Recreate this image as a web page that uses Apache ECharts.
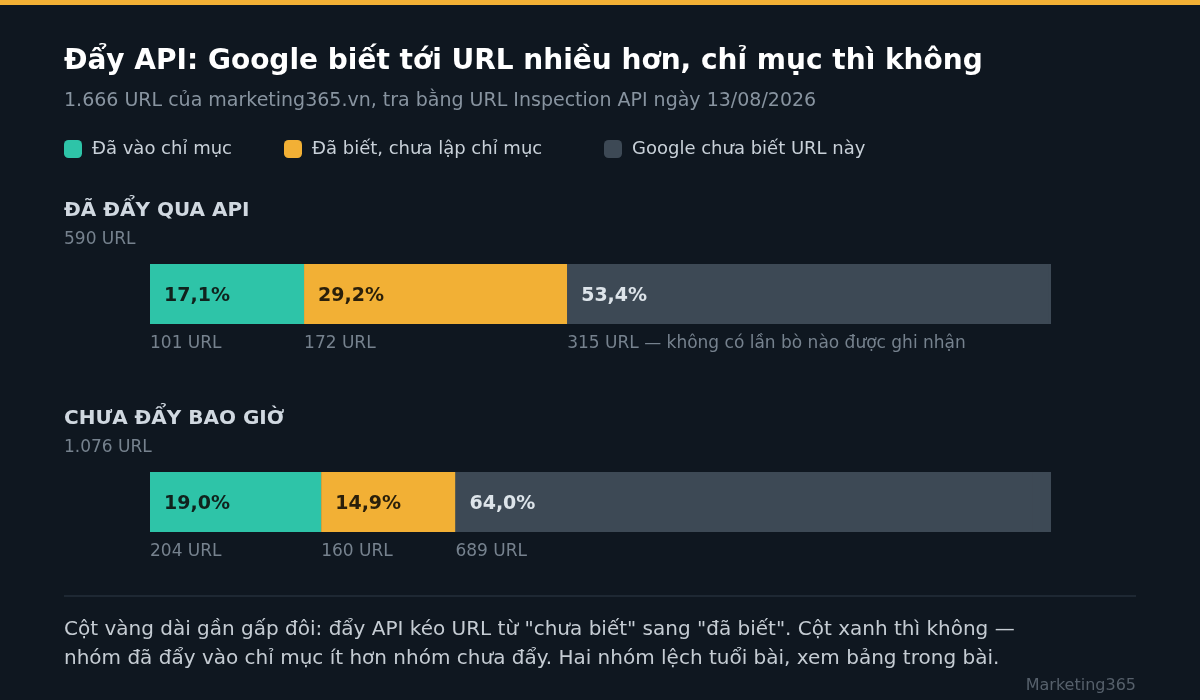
<!DOCTYPE html>
<html>
<head>
<meta charset="utf-8">
<script src="https://cdn.jsdelivr.net/npm/echarts@6/dist/echarts.min.js"></script>
<style>
html,body{margin:0;padding:0;background:#0f1720;}
#c{width:1200px;height:700px;}
</style>
</head>
<body>
<div id="c"></div>
<script>
// ---- data ----
const seriesNames = ['Đã vào chỉ mục', 'Đã biết, chưa lập chỉ mục', 'Google chưa biết URL này'];
const groupNames = ['ĐÃ ĐẨY QUA API', 'CHƯA ĐẨY BAO GIỜ'];
const groupTotals = [590, 1076];
const pushedPct = [17.1, 29.2, 53.4];
const pushedCounts = [101, 172, 315];
const pushedNotes = ['', '', ' — không có lần bò nào được ghi nhận'];
const neverPct = [19.0, 14.9, 64.0];
const neverCounts = [204, 160, 689];
const neverNotes = ['', '', ''];

const FONT = '"DejaVu Sans", sans-serif';
const colors = ['#2ec4a8', '#f2b035', '#3d4955'];
const pctTextColors = ['#10221d', '#2a1f0a', '#dde4ea'];

function fmtNum(n) { return String(n).replace(/\B(?=(\d{3})+(?!\d))/g, '.'); }
function fmtPct(v) { return v.toFixed(1).replace('.', ',') + '%'; }

const groups = [
  { pct: pushedPct, counts: pushedCounts, notes: pushedNotes },
  { pct: neverPct, counts: neverCounts, notes: neverNotes }
];

const grids = [], xAxes = [], yAxes = [], series = [];
const gridTops = [264, 472];
groups.forEach((g, gi) => {
  grids.push({ left: 150, width: 901, top: gridTops[gi], height: 60, containLabel: false });
  xAxes.push({ type: 'value', gridIndex: gi, min: 0, max: 100, show: false });
  yAxes.push({ type: 'category', gridIndex: gi, data: [groupNames[gi]], show: false });
  g.pct.forEach((v, si) => {
    series.push({
      name: seriesNames[si], type: 'bar', xAxisIndex: gi, yAxisIndex: gi,
      stack: 'main' + gi, barWidth: 60, barGap: '-100%',
      data: [v],
      itemStyle: { color: colors[si] },
      showBackground: si === 0,
      backgroundStyle: { color: colors[2] },
      label: {
        show: true, position: 'insideLeft', distance: 14, offset: [0, 2],
        formatter: (p) => fmtPct(p.value),
        color: pctTextColors[si], fontFamily: FONT, fontWeight: 'bold', fontSize: 19
      },
      emphasis: { disabled: true }, animation: false
    });
  });
  g.pct.forEach((v, si) => {
    series.push({
      name: 'lbl' + gi + '_' + si, type: 'bar', xAxisIndex: gi, yAxisIndex: gi,
      stack: 'lbl' + gi, barWidth: 60, barGap: '-100%', silent: true,
      data: [v],
      itemStyle: { color: 'rgba(0,0,0,0)' },
      label: {
        show: true, position: 'insideBottomLeft', distance: 0, offset: [0, 28],
        formatter: () => g.counts[si] + ' URL' + g.notes[si],
        color: '#76828e', fontFamily: FONT, fontSize: 17
      },
      emphasis: { disabled: true }, animation: false
    });
  });
});

const legendLefts = [64, 284, 604];
const legends = seriesNames.map((n, i) => ({
  data: [n], left: legendLefts[i], top: 140, padding: 0, itemWidth: 18, itemHeight: 18, icon: 'roundRect',
  itemStyle: { borderRadius: 3 }, selectedMode: false,
  textStyle: { color: '#c9d1d9', fontFamily: FONT, fontSize: 18, padding: [0, 0, 0, 5] }
}));

function txt(text, x, y, font, fill, align) {
  return { type: 'text', silent: true, style: { text, x, y, font, fill, textAlign: align || 'left', textVerticalAlign: 'middle', align: align || 'left', verticalAlign: 'middle' } };
}

const graphic = [
  { type: 'rect', shape: { x: 0, y: 0, width: 1200, height: 5 }, style: { fill: '#f2b035' }, silent: true },
  txt('Đẩy API: Google biết tới URL nhiều hơn, chỉ mục thì không', 64, 62, 'bold 28px ' + FONT, '#ffffff'),
  txt('1.666 URL của marketing365.vn, tra bằng URL Inspection API ngày 13/08/2026', 64, 101, '19px ' + FONT, '#8894a0'),
  txt(groupNames[0], 64, 211, 'bold 20px ' + FONT, '#d0d8e0'),
  txt(fmtNum(groupTotals[0]) + ' URL', 64, 240, '17px ' + FONT, '#76828e'),
  txt(groupNames[1], 64, 419, 'bold 20px ' + FONT, '#d0d8e0'),
  txt(fmtNum(groupTotals[1]) + ' URL', 64, 448, '17px ' + FONT, '#76828e'),
  { type: 'line', silent: true, shape: { x1: 64, y1: 596, x2: 1136, y2: 596 }, style: { stroke: '#1e2833', lineWidth: 2 } },
  txt('Cột vàng dài gần gấp đôi: đẩy API kéo URL từ "chưa biết" sang "đã biết". Cột xanh thì không —', 64, 630, '20px ' + FONT, '#c5ccd3'),
  txt('nhóm đã đẩy vào chỉ mục ít hơn nhóm chưa đẩy. Hai nhóm lệch tuổi bài, xem bảng trong bài.', 64, 659, '20px ' + FONT, '#c5ccd3'),
  txt('Marketing365', 1136, 686, '16px ' + FONT, '#56606b', 'right')
];

const chart = echarts.init(document.getElementById('c'), null, { renderer: 'canvas' });
chart.setOption({
  backgroundColor: '#0f1720',
  animation: false,
  textStyle: { fontFamily: FONT },
  grid: grids, xAxis: xAxes, yAxis: yAxes, series: series,
  legend: legends, graphic: graphic
});
</script>
</body>
</html>
